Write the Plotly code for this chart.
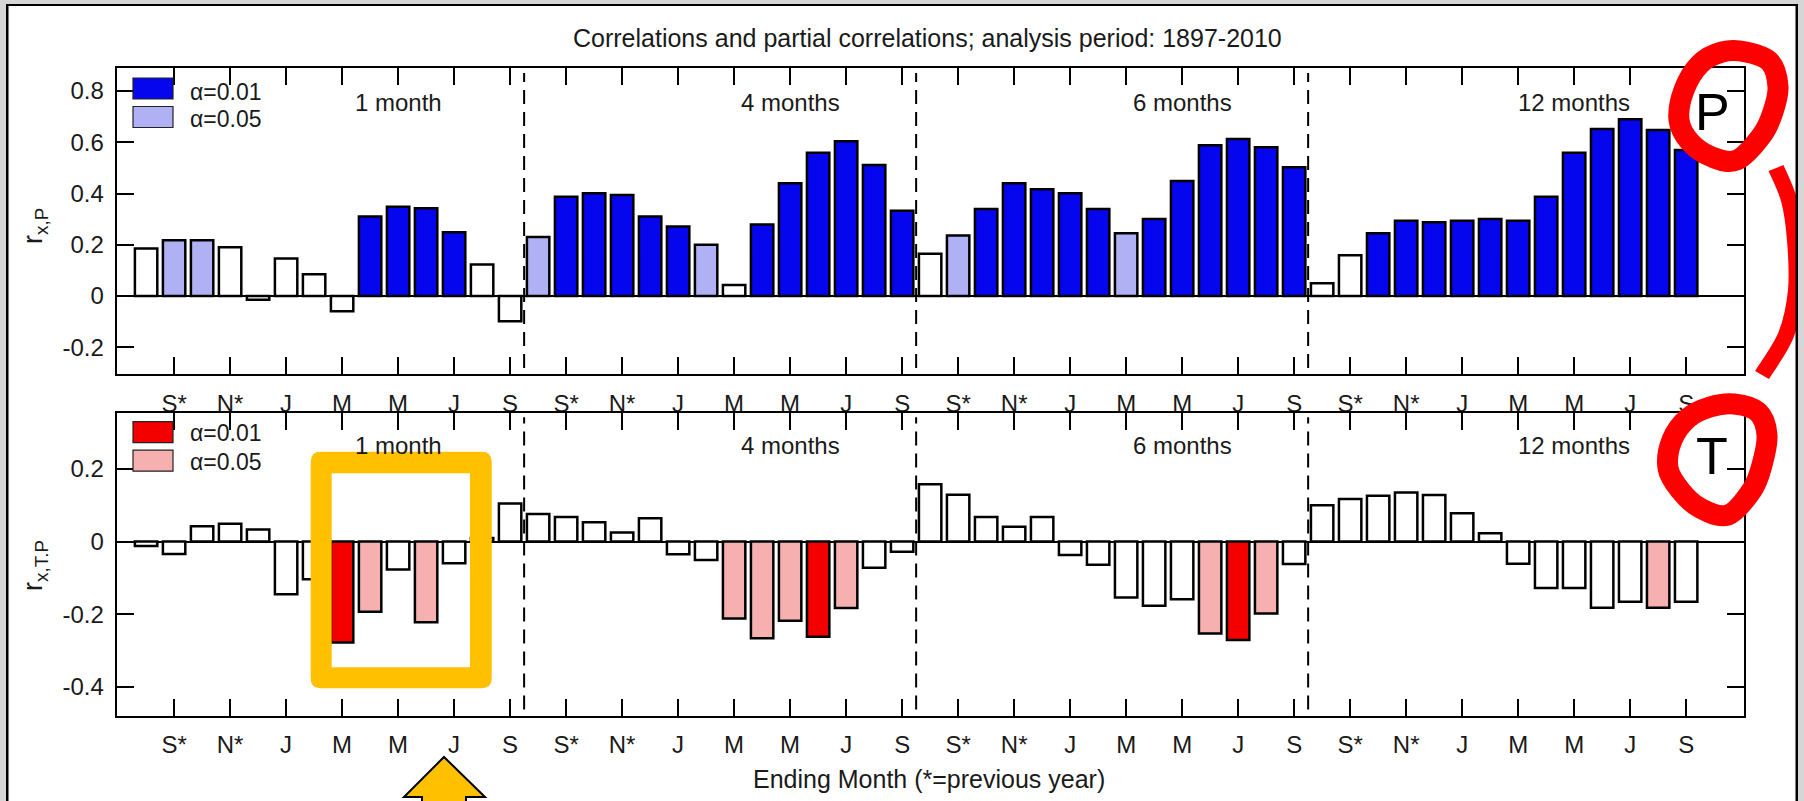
import plotly.graph_objects as go

W, H = 1804, 801

# Ending months of each window (Aug of previous year .. Sep), one bar per month
months = ["Aug*", "S*", "O*", "N*", "D*", "J", "F", "M", "A", "M", "J", "J", "A", "S"]
windows = ["1 month", "4 months", "6 months", "12 months"]
tick_text = ["S*", "N*", "J", "M", "M", "J", "S"]

# Correlation with precipitation, r(x,P), per window length
p_1m = [0.185, 0.217, 0.217, 0.19, -0.015, 0.146, 0.085, -0.06, 0.31, 0.348, 0.342, 0.249, 0.123, -0.099]
p_4m = [0.23, 0.387, 0.401, 0.394, 0.31, 0.271, 0.2, 0.043, 0.279, 0.44, 0.559, 0.604, 0.511, 0.333]
p_6m = [0.165, 0.236, 0.339, 0.44, 0.417, 0.401, 0.339, 0.245, 0.30, 0.449, 0.588, 0.613, 0.581, 0.503]
p_12m = [0.049, 0.159, 0.245, 0.294, 0.288, 0.294, 0.30, 0.294, 0.387, 0.559, 0.652, 0.69, 0.648, 0.57]

# Partial correlation with temperature, r(x,T.P), per window length
t_1m = [-0.012, -0.034, 0.042, 0.049, 0.033, -0.145, -0.104, -0.278, -0.193, -0.077, -0.222, -0.06, 0.01, 0.105]
t_4m = [0.076, 0.068, 0.053, 0.025, 0.064, -0.035, -0.051, -0.212, -0.266, -0.218, -0.262, -0.183, -0.072, -0.028]
t_6m = [0.158, 0.129, 0.068, 0.041, 0.068, -0.037, -0.064, -0.154, -0.177, -0.159, -0.253, -0.271, -0.198, -0.062]
t_12m = [0.1, 0.117, 0.126, 0.135, 0.128, 0.078, 0.023, -0.061, -0.128, -0.128, -0.182, -0.166, -0.182, -0.166]

# Significance level: 0 = not significant, 1 = alpha 0.05, 2 = alpha 0.01
p_1m_sig = [0, 1, 1, 0, 0, 0, 0, 0, 2, 2, 2, 2, 0, 0]
p_4m_sig = [1, 2, 2, 2, 2, 2, 1, 0, 2, 2, 2, 2, 2, 2]
p_6m_sig = [0, 1, 2, 2, 2, 2, 2, 1, 2, 2, 2, 2, 2, 2]
p_12m_sig = [0, 0, 2, 2, 2, 2, 2, 2, 2, 2, 2, 2, 2, 2]
t_1m_sig = [0, 0, 0, 0, 0, 0, 0, 2, 1, 0, 1, 0, 0, 0]
t_4m_sig = [0, 0, 0, 0, 0, 0, 0, 1, 1, 1, 2, 1, 0, 0]
t_6m_sig = [0, 0, 0, 0, 0, 0, 0, 0, 0, 0, 1, 2, 1, 0]
t_12m_sig = [0, 0, 0, 0, 0, 0, 0, 0, 0, 0, 0, 0, 1, 0]

p_vals = p_1m + p_4m + p_6m + p_12m
t_vals = t_1m + t_4m + t_6m + t_12m
p_sig = p_1m_sig + p_4m_sig + p_6m_sig + p_12m_sig
t_sig = t_1m_sig + t_4m_sig + t_6m_sig + t_12m_sig

n_m = len(months)
xs = list(range(len(p_vals)))

P_COL = {0: "#ffffff", 1: "#b0b0f4", 2: "#0606ee"}
T_COL = {0: "#ffffff", 1: "#f6b0b0", 2: "#f40000"}
INK = "#1a1a1a"
FONT = "Liberation Sans, Arial, sans-serif"
ORANGE = "#ffc000"
RED = "#ff0000"


def px(x):
    return x / W


def py(y):
    return 1 - y / H


fig = go.Figure()
fig.add_trace(go.Bar(
    x=xs, y=p_vals, width=0.8, xaxis="x", yaxis="y",
    marker=dict(color=[P_COL[s] for s in p_sig], line=dict(color="black", width=2.5)),
    showlegend=False, hoverinfo="skip"))
fig.add_trace(go.Bar(
    x=xs, y=t_vals, width=0.8, xaxis="x2", yaxis="y2",
    marker=dict(color=[T_COL[s] for s in t_sig], line=dict(color="black", width=2.5)),
    showlegend=False, hoverinfo="skip"))

# tick marks every second month, labelled on the lower edge of each panel
tickvals = [g * n_m + i for g in range(len(windows)) for i in range(1, n_m, 2)]
ticktext = tick_text * len(windows)

XL, XR = 116.7, 1744.4
x_common = dict(
    domain=[px(XL), px(XR)], range=[-1.05, 57.08],
    tickvals=tickvals, ticktext=ticktext, ticks="inside", ticklen=17, tickwidth=1.5,
    tickcolor="black", showline=True, linecolor="black", linewidth=2, mirror="ticks",
    showgrid=False, zeroline=False, tickfont=dict(size=24, color=INK, family=FONT),
    ticklabelstandoff=7,
)
y_common = dict(
    ticks="inside", ticklen=17, tickwidth=1.5, tickcolor="black", showline=True,
    linecolor="black", linewidth=2, mirror="ticks", showgrid=False, zeroline=True,
    zerolinecolor="black", zerolinewidth=2, tickfont=dict(size=24, color=INK, family=FONT),
    ticklabelstandoff=6,
)

TOP = (68.3, 374.0)
BOT = (412.7, 715.5)
p_ticks = [-0.2, 0, 0.2, 0.4, 0.6, 0.8]
t_ticks = [-0.4, -0.2, 0, 0.2]


def fmt(v):
    return "0" if v == 0 else f"{v:.1f}"


fig.update_layout(
    width=W, height=H, margin=dict(l=0, r=0, t=0, b=0),
    paper_bgcolor="white", plot_bgcolor="white", barmode="overlay",
    font=dict(family=FONT, color=INK),
    xaxis=dict(x_common, anchor="y"),
    yaxis=dict(y_common, domain=[py(TOP[1]), py(TOP[0])], range=[-0.305, 0.889],
               tickvals=p_ticks, ticktext=[fmt(v) for v in p_ticks], anchor="x"),
    xaxis2=dict(x_common, anchor="y2"),
    yaxis2=dict(y_common, domain=[py(BOT[1]), py(BOT[0])], range=[-0.479, 0.355],
                tickvals=t_ticks, ticktext=[fmt(v) for v in t_ticks], anchor="x2"),
)

shapes = []
ann = []

# window separators and window-length labels
for ax in ("", "2"):
    for g in range(1, len(windows)):
        shapes.append(dict(type="line", xref="x" + ax, yref=f"y{ax} domain",
                           x0=g * n_m - 0.5, x1=g * n_m - 0.5, y0=0.02, y1=0.985,
                           line=dict(color="black", width=2, dash="14px,8px")))
    for g, name in enumerate(windows):
        ann.append(dict(text=name, xref="x" + ax, yref=f"y{ax} domain",
                        x=g * n_m + 9, y=0.887 if ax == "" else 0.893,
                        showarrow=False, xanchor="center", yanchor="middle",
                        font=dict(size=24, color=INK, family=FONT)))

# legend swatches
for (y1, yt1, yt2, cols) in [(78, 92, 119, P_COL), (421.7, 433, 461.7, T_COL)]:
    for k, top in enumerate([y1, y1 + 28.5]):
        shapes.append(dict(type="rect", xref="paper", yref="paper",
                           x0=px(133), x1=px(173), y0=py(top), y1=py(top + 21),
                           fillcolor=cols[2 - k], line=dict(color="#222222", width=1.2)))
    ann.append(dict(text="α=0.01", xref="paper", yref="paper", x=px(188), y=py(yt1),
                    xanchor="left", yanchor="middle", showarrow=False,
                    font=dict(size=23, color=INK, family=FONT)))
    ann.append(dict(text="α=0.05", xref="paper", yref="paper", x=px(188), y=py(yt2),
                    xanchor="left", yanchor="middle", showarrow=False,
                    font=dict(size=23, color=INK, family=FONT)))

# axis titles and figure title
ann.append(dict(text="r<sub>x,P</sub>", xref="paper", yref="paper", x=px(35), y=py(226),
                textangle=-90, showarrow=False, xanchor="center", yanchor="middle",
                font=dict(size=27, color=INK, family=FONT)))
ann.append(dict(text="r<sub>x,T.P</sub>", xref="paper", yref="paper", x=px(35), y=py(566),
                textangle=-90, showarrow=False, xanchor="center", yanchor="middle",
                font=dict(size=27, color=INK, family=FONT)))
ann.append(dict(text="Correlations and partial correlations; analysis period: 1897-2010",
                xref="paper", yref="paper", x=px(927), y=py(38), showarrow=False,
                xanchor="center", yanchor="middle", font=dict(size=25, color=INK, family=FONT)))
ann.append(dict(text="Ending Month (*=previous year)", xref="paper", yref="paper",
                x=px(929), y=py(779), showarrow=False, xanchor="center", yanchor="middle",
                font=dict(size=25, color=INK, family=FONT)))

# panel tags
ann.append(dict(text="P", xref="paper", yref="paper", x=px(1712), y=py(112), showarrow=False,
                xanchor="center", yanchor="middle", font=dict(size=52, color="black", family=FONT)))
ann.append(dict(text="T", xref="paper", yref="paper", x=px(1712), y=py(456), showarrow=False,
                xanchor="center", yanchor="middle", font=dict(size=52, color="black", family=FONT)))


def smooth_path(pts, closed=True):
    n = len(pts)
    P = [(px(x), py(y)) for x, y in pts]
    d = f"M {P[0][0]:.5f},{P[0][1]:.5f}"
    segs = n if closed else n - 1
    for i in range(segs):
        if closed:
            p0, p1, p2, p3 = P[i - 1], P[i], P[(i + 1) % n], P[(i + 2) % n]
        else:
            p0 = P[max(i - 1, 0)]
            p1 = P[i]
            p2 = P[i + 1]
            p3 = P[min(i + 2, n - 1)]
        c1 = (p1[0] + (p2[0] - p0[0]) / 6, p1[1] + (p2[1] - p0[1]) / 6)
        c2 = (p2[0] - (p3[0] - p1[0]) / 6, p2[1] - (p3[1] - p1[1]) / 6)
        d += f" C {c1[0]:.5f},{c1[1]:.5f} {c2[0]:.5f},{c2[1]:.5f} {p2[0]:.5f},{p2[1]:.5f}"
    if closed:
        d += " Z"
    return d


def poly_path(pts):
    return "M " + " L ".join(f"{px(x):.5f},{py(y):.5f}" for x, y in pts) + " Z"


# hand-drawn red marks around the panel tags
p_loop = [(1746, 52), (1770, 62), (1778, 87), (1773, 112), (1762, 135), (1737, 160),
          (1712, 157), (1690, 142), (1679, 120), (1684, 90), (1700, 64), (1722, 52)]
t_loop = [(1734, 404), (1758, 412), (1767, 435), (1762, 465), (1752, 490), (1728, 515),
          (1700, 508), (1680, 490), (1668, 468), (1672, 440), (1688, 418), (1710, 407)]
brace = [(1776, 168), (1789, 200), (1795, 240), (1796, 290), (1786, 335), (1762, 375)]
shapes.append(dict(type="path", xref="paper", yref="paper", path=smooth_path(p_loop),
                   line=dict(color=RED, width=21)))
shapes.append(dict(type="path", xref="paper", yref="paper", path=smooth_path(t_loop),
                   line=dict(color=RED, width=21)))
shapes.append(dict(type="path", xref="paper", yref="paper", path=smooth_path(brace, closed=False),
                   line=dict(color=RED, width=16)))

# orange highlight frame (rounded outer edge, square inner edge)
ox0, ox1, oy0, oy1, r = 310.7, 491.7, 451.7, 688.3, 10
ix0, ix1, iy0, iy1 = 331.7, 470.0, 473.3, 667.3
outer = (f"M {px(ox0 + r):.5f},{py(oy0):.5f} L {px(ox1 - r):.5f},{py(oy0):.5f} "
         f"Q {px(ox1):.5f},{py(oy0):.5f} {px(ox1):.5f},{py(oy0 + r):.5f} "
         f"L {px(ox1):.5f},{py(oy1 - r):.5f} Q {px(ox1):.5f},{py(oy1):.5f} {px(ox1 - r):.5f},{py(oy1):.5f} "
         f"L {px(ox0 + r):.5f},{py(oy1):.5f} Q {px(ox0):.5f},{py(oy1):.5f} {px(ox0):.5f},{py(oy1 - r):.5f} "
         f"L {px(ox0):.5f},{py(oy0 + r):.5f} Q {px(ox0):.5f},{py(oy0):.5f} {px(ox0 + r):.5f},{py(oy0):.5f} Z")
inner = (f" M {px(ix0):.5f},{py(iy0):.5f} L {px(ix0):.5f},{py(iy1):.5f} "
         f"L {px(ix1):.5f},{py(iy1):.5f} L {px(ix1):.5f},{py(iy0):.5f} Z")
shapes.append(dict(type="path", xref="paper", yref="paper", path=outer + inner,
                   fillcolor=ORANGE, line=dict(width=0)))

# orange pointer arrow
arrow = [(444, 757), (485, 797), (466, 797), (466, 830), (422, 830), (422, 797), (404, 797)]
shapes.append(dict(type="path", xref="paper", yref="paper", path=poly_path(arrow),
                   fillcolor=ORANGE, line=dict(color="black", width=2)))

# window frame around the figure
GRAY = "#d6d6d6"
for x0, x1, y0, y1, c in [(0, 6, 0, H, GRAY), (6, 8.5, 4, H, "black"),
                          (0, W, 0, 4, GRAY), (6, 1798, 4, 6, "black"),
                          (1795.5, 1798, 4, H, "black"), (1798, W, 0, H, GRAY)]:
    shapes.append(dict(type="rect", xref="paper", yref="paper", x0=px(x0), x1=px(x1),
                       y0=py(y1), y1=py(y0), fillcolor=c, line=dict(width=0)))

fig.update_layout(shapes=shapes, annotations=ann)
fig.write_html("out.html")
